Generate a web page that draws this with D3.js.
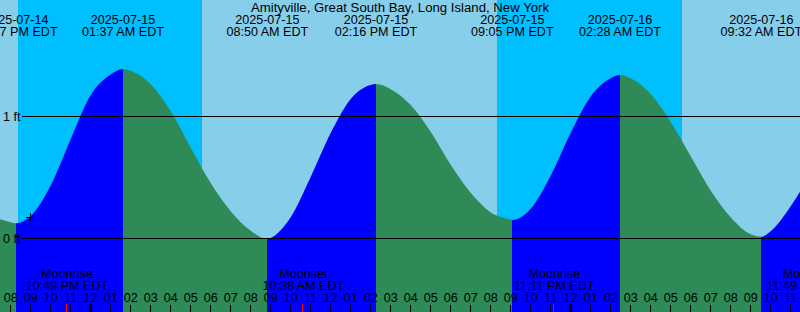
<!DOCTYPE html>
<html lang="en">
<head>
  <meta charset="UTF-8">
  <title>Amityville, Great South Bay, Long Island, New York</title>
  <script src="https://d3js.org/d3.v7.min.js"></script>
  <style>
    body { margin: 0; overflow: hidden; background: #fff; }
    svg { display: block; }
    text { font-family: "Liberation Sans", Arial, sans-serif; font-size: 12.6px; fill: #000; }
    .title { font-size: 13.2px; }
  </style>
</head>
<body>
<svg id="chart" width="800" height="312"></svg>
<script>
  const title = "Amityville, Great South Bay, Long Island, New York";

  // window shown: 40 hours
  const domainStart = "2025-07-14 19:28";
  const domainEnd = "2025-07-16 11:28";

  // high / low tides (ft)
  const tideTimes = ["2025-07-14 20:17", "2025-07-15 01:37", "2025-07-15 08:50",
                     "2025-07-15 14:16", "2025-07-15 21:05", "2025-07-16 02:28", "2025-07-16 09:32"];
  const tideHeights = [0.12, 1.385, -0.01, 1.262, 0.148, 1.336, 0.01];

  // heights, hourly
  const sampleTimes = ["2025-07-14 19:28",
    "2025-07-14 20:00", "2025-07-14 21:00", "2025-07-14 22:00", "2025-07-14 23:00",
    "2025-07-15 00:00", "2025-07-15 01:00", "2025-07-15 02:00", "2025-07-15 03:00",
    "2025-07-15 04:00", "2025-07-15 05:00", "2025-07-15 06:00", "2025-07-15 07:00",
    "2025-07-15 08:00", "2025-07-15 09:00", "2025-07-15 10:00", "2025-07-15 11:00",
    "2025-07-15 12:00", "2025-07-15 13:00", "2025-07-15 14:00", "2025-07-15 15:00",
    "2025-07-15 16:00", "2025-07-15 17:00", "2025-07-15 18:00", "2025-07-15 19:00",
    "2025-07-15 20:00", "2025-07-15 21:00", "2025-07-15 22:00", "2025-07-15 23:00",
    "2025-07-16 00:00", "2025-07-16 01:00", "2025-07-16 02:00", "2025-07-16 03:00",
    "2025-07-16 04:00", "2025-07-16 05:00", "2025-07-16 06:00", "2025-07-16 07:00",
    "2025-07-16 08:00", "2025-07-16 09:00", "2025-07-16 10:00", "2025-07-16 11:00",
    "2025-07-16 11:28"];
  const sampleHeights = [0.153,
    0.13, 0.18, 0.43, 0.81,
    1.17, 1.34, 1.37, 1.26,
    1.04, 0.74, 0.45, 0.22,
    0.06, 0.0, 0.17, 0.50,
    0.86, 1.14, 1.255, 1.22,
    1.09, 0.87, 0.60, 0.37,
    0.21, 0.152, 0.24, 0.51,
    0.86, 1.16, 1.31, 1.31,
    1.18, 0.95, 0.67, 0.39,
    0.17, 0.03, 0.055, 0.26,
    0.38];

  const sunTimes = ["2025-07-14 20:22", "2025-07-15 05:33", "2025-07-15 20:18", "2025-07-16 05:34"];
  const sunKinds = ["set", "rise", "set", "rise"];

  const moonTimes = ["2025-07-14 22:49", "2025-07-15 10:38", "2025-07-15 23:11", "2025-07-16 11:49"];
  const moonKinds = ["Moonrise", "Moonset", "Moonrise", "Moonset"];

  const levelTicks = [0, 1];
  const markTime = "2025-07-14 20:58";
  const markHeight = 0.17;

  const colors = { day: "#87ceeb", night: "#00bfff", rising: "#0000ff", falling: "#2e8b57" };

  const parse = d3.timeParse("%Y-%m-%d %H:%M");
  const svg = d3.select("#chart");
  const width = 800, height = 312;

  const x = d3.scaleTime()
    .domain([parse(domainStart), parse(domainEnd)])
    .range([0, width]);
  const y = d3.scaleLinear()
    .domain([0, 1])
    .range([238, 116]);

  // day / night background
  const sunBounds = [x.domain()[0], ...sunTimes.map(parse), x.domain()[1]];
  const sunState = ["day", ...sunKinds.map(k => k === "set" ? "night" : "day")];
  svg.append("g").selectAll("rect")
    .data(sunState)
    .join("rect")
    .attr("x", (d, i) => x(sunBounds[i]))
    .attr("width", (d, i) => x(sunBounds[i + 1]) - x(sunBounds[i]))
    .attr("y", 0)
    .attr("height", height)
    .attr("fill", d => colors[d])
    .attr("shape-rendering", "crispEdges");

  // tide curve
  const points = sampleTimes.map((t, i) => ({ t: parse(t), h: sampleHeights[i] }))
    .concat(tideTimes.map((t, i) => ({ t: parse(t), h: tideHeights[i] })))
    .sort((a, b) => a.t - b.t);

  const area = d3.area()
    .x(d => x(d.t))
    .y0(height)
    .y1(d => y(d.h))
    .curve(d3.curveMonotoneX);

  svg.append("clipPath").attr("id", "tide")
    .append("path").attr("d", area(points));

  // rising / falling segments between the extremes
  const tideBounds = [x.domain()[0], ...tideTimes.map(parse), x.domain()[1]];
  const segs = tideBounds.slice(0, -1).map((t, i) => {
    const next = tideHeights[i];
    const prev = tideHeights[i - 1];
    let rising;
    if (i < tideHeights.length) rising = next > (prev !== undefined ? prev : tideHeights[i + 1]);
    else rising = tideHeights[i - 1] < tideHeights[i - 2];
    return { t0: t, t1: tideBounds[i + 1], rising };
  });
  svg.append("g").attr("clip-path", "url(#tide)")
    .selectAll("rect")
    .data(segs)
    .join("rect")
    .attr("x", d => x(d.t0))
    .attr("width", d => x(d.t1) - x(d.t0))
    .attr("y", 0)
    .attr("height", height)
    .attr("fill", d => d.rising ? colors.rising : colors.falling)
    .attr("shape-rendering", "crispEdges");

  // level lines
  svg.append("g").selectAll("line")
    .data(levelTicks)
    .join("line")
    .attr("x1", 22).attr("x2", width)
    .attr("y1", d => y(d)).attr("y2", d => y(d))
    .attr("stroke", "#000")
    .attr("shape-rendering", "crispEdges");
  svg.append("g").selectAll("text")
    .data(levelTicks)
    .join("text")
    .attr("x", 3)
    .attr("y", d => y(d) + 4.5)
    .text(d => d + " ft");

  // current-time mark
  const mx = x(parse(markTime)), my = y(markHeight);
  svg.append("path")
    .attr("d", `M${mx - 4},${my}H${mx + 4}M${mx},${my - 4}V${my + 4}`)
    .attr("stroke", "#000")
    .attr("shape-rendering", "crispEdges");

  // title and tide labels
  svg.append("text")
    .attr("class", "title")
    .attr("x", width / 2).attr("y", 12)
    .attr("text-anchor", "middle")
    .text(title);

  const fmtDate = d3.timeFormat("%Y-%m-%d");
  const fmtTime = d3.timeFormat("%I:%M %p EDT");
  const tl = svg.append("g").selectAll("g")
    .data(tideTimes.map(parse))
    .join("g")
    .attr("transform", d => `translate(${x(d)},0)`)
    .attr("text-anchor", "middle");
  tl.append("text").attr("y", 24).text(d => fmtDate(d));
  tl.append("text").attr("y", 36).text(d => fmtTime(d));

  // moon labels
  const ml = svg.append("g").selectAll("g")
    .data(moonTimes.map((t, i) => ({ t: parse(t), kind: moonKinds[i] })))
    .join("g")
    .attr("transform", d => `translate(${x(d.t)},0)`)
    .attr("text-anchor", "middle");
  ml.append("text").attr("y", 278).text(d => d.kind);
  ml.append("text").attr("y", 290).text(d => fmtTime(d.t));

  // hour axis
  const hours = d3.timeHour.range(x.domain()[0], x.domain()[1]);
  const fmtHour = d3.timeFormat("%I");
  svg.append("g").selectAll("text")
    .data(hours)
    .join("text")
    .attr("x", d => x(d))
    .attr("y", 302)
    .attr("text-anchor", "middle")
    .text(d => fmtHour(d));
  svg.append("g").selectAll("rect")
    .data(hours)
    .join("rect")
    .attr("x", d => d.getHours() === 0 ? Math.round(x(d)) - 2 : Math.round(x(d)) - 1)
    .attr("width", d => d.getHours() === 0 ? 3 : 1)
    .attr("y", d => d.getHours() === 0 ? 304 : 305)
    .attr("height", d => d.getHours() === 0 ? 8 : 7)
    .attr("fill", "#000");
  svg.append("g").selectAll("rect")
    .data(moonTimes.map(parse))
    .join("rect")
    .attr("x", d => Math.round(x(d)) - 1)
    .attr("width", 1)
    .attr("y", 304)
    .attr("height", 8)
    .attr("fill", "#ff0000");
</script>
</body>
</html>
